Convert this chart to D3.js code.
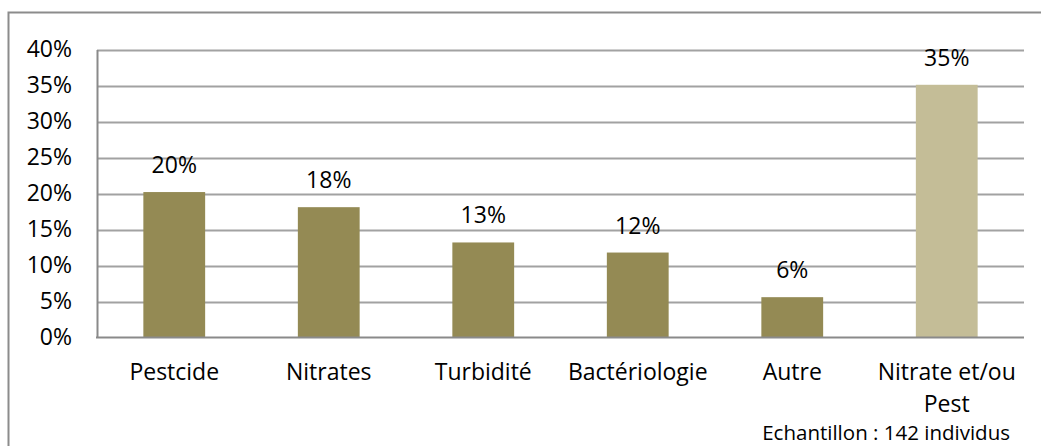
<!DOCTYPE html>
<html>
<head>
<meta charset="utf-8">
<script src="https://cdn.jsdelivr.net/npm/d3@7"></script>
<style>
  html, body { margin: 0; padding: 0; background: #fff; }
  svg { display: block; }
  text { font-family: "Open Sans", "Noto Sans", sans-serif; fill: #000; }
</style>
</head>
<body>
<svg id="chart" width="1041" height="446"></svg>
<script>
// Categories (second line of a label after "\n")
const categories = ["Pestcide", "Nitrates", "Turbidité", "Bactériologie", "Autre", "Nitrate et/ou\nPest"];
// Share of respondents for each concern
const shares = [0.202, 0.181, 0.132, 0.118, 0.056, 0.351];
// Y axis tick values
const yTicks = [0, 0.05, 0.10, 0.15, 0.20, 0.25, 0.30, 0.35, 0.40];
const footnote = "Echantillon : 142 individus";

const FONT = 23;
const svg = d3.select("#chart");

// Frame around the whole chart
svg.append("rect")
  .attr("x", 8.5).attr("y", 12.5)
  .attr("width", 1040).attr("height", 450)
  .attr("fill", "none").attr("stroke", "#8c8c8c").attr("stroke-width", 2);

const plot = { left: 97, right: 1024, top: 49.5, bottom: 337.5 };

const x = d3.scaleBand()
  .domain(categories)
  .range([plot.left, plot.right])
  .paddingInner(0.6).paddingOuter(0.3);

const y = d3.scaleLinear()
  .domain([0, 0.40])
  .range([plot.bottom, plot.top]);

// Horizontal gridlines
svg.append("g")
  .selectAll("line")
  .data(yTicks.filter(d => d > 0))
  .join("line")
  .attr("x1", plot.left).attr("x2", plot.right)
  .attr("y1", d => Math.round(y(d)) + 0.5).attr("y2", d => Math.round(y(d)) + 0.5)
  .attr("stroke", "#a2a2a2").attr("stroke-width", 2);

// Y axis with percentage labels
const yAxis = svg.append("g")
  .attr("transform", `translate(${plot.left},0)`)
  .call(d3.axisLeft(y).tickValues(yTicks).tickFormat(d3.format(".0%")).tickSize(0).tickPadding(25));
yAxis.select(".domain").attr("stroke", "#8a8a8a").attr("stroke-width", 2);
yAxis.selectAll("text")
  .attr("font-size", FONT)
  .attr("font-family", "'Open Sans', 'Noto Sans', sans-serif")
  .attr("fill", "#000");

// Bars
const barColor = (d, i) => i === categories.length - 1 ? "#c4bd97" : "#948a54";
svg.append("g")
  .selectAll("rect")
  .data(shares)
  .join("rect")
  .attr("x", (d, i) => x(categories[i]))
  .attr("width", x.bandwidth())
  .attr("y", d => y(d))
  .attr("height", d => y(0) - y(d))
  .attr("fill", barColor);

// X axis baseline
svg.append("line")
  .attr("x1", plot.left - 1).attr("x2", plot.right)
  .attr("y1", plot.bottom).attr("y2", plot.bottom)
  .attr("stroke", "#8a8a8a").attr("stroke-width", 2);

// Value labels above bars
svg.append("g")
  .selectAll("text")
  .data(shares)
  .join("text")
  .attr("x", (d, i) => x(categories[i]) + x.bandwidth() / 2)
  .attr("y", d => y(d) - 19)
  .attr("text-anchor", "middle")
  .attr("font-size", FONT)
  .text(d3.format(".0%"));

// Category labels
const catLabels = svg.append("g")
  .selectAll("text")
  .data(categories)
  .join("text")
  .attr("x", d => x(d) + x.bandwidth() / 2)
  .attr("y", 380)
  .attr("text-anchor", "middle")
  .attr("font-size", FONT);
catLabels.each(function(d) {
  const lines = d.split("\n");
  const t = d3.select(this);
  lines.forEach((ln, k) => {
    t.append("tspan")
      .attr("x", t.attr("x"))
      .attr("dy", k === 0 ? 0 : 32)
      .text(ln);
  });
});

// Sample size note
svg.append("text")
  .attr("x", 1010).attr("y", 440)
  .attr("text-anchor", "end")
  .attr("font-size", 20.5)
  .text(footnote);
</script>
</body>
</html>
